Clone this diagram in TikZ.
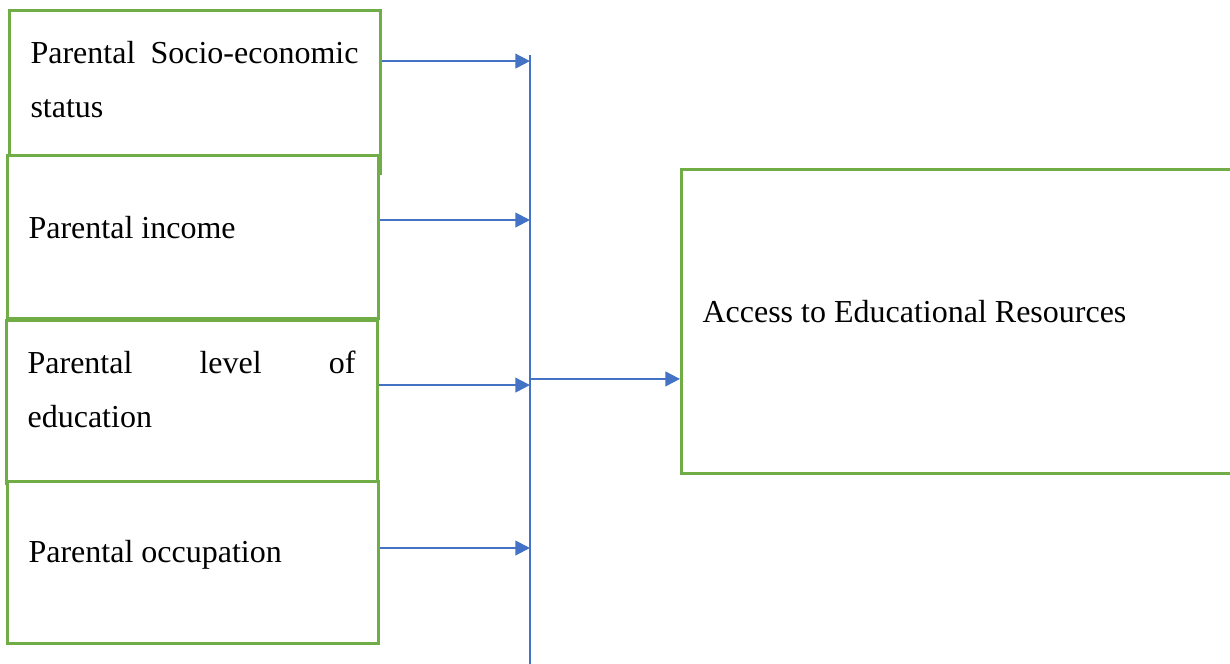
\documentclass[tikz,border=0pt]{standalone}
\usepackage{fontspec}
\setmainfont{Liberation Serif}
\usepackage{tikz}
\usetikzlibrary{arrows.meta,positioning,calc}
\definecolor{boxgreen}{HTML}{70AD47}
\definecolor{linkblue}{HTML}{4472C4}
\tolerance=10000
\hyphenpenalty=10000
\exhyphenpenalty=10000

\begin{document}
\begin{tikzpicture}[
every node/.style={font=\fontsize{12pt}{20.25pt}\selectfont},
box/.style={draw=boxgreen,line width=1pt,fill=white,anchor=north west,
minimum width=139.1pt,minimum height=61.1pt,inner sep=0pt},
txt/.style={anchor=base west,text width=123pt,align=justify,inner sep=0pt},
arr/.style={-{Triangle[length=5.5pt,width=5.5pt]},line width=0.75pt,draw=linkblue},
bus/.style={line width=0.75pt,draw=linkblue}
]
\useasboundingbox (0,0) rectangle (461.25pt,-248.625pt);

% factor boxes
\node[box] (ses) at (3pt,-3.4pt) {};
\node[box] (inc) at (2.25pt,-57.75pt) {};
\node[box] (edu) at (1.9pt,-119.6pt) {};
\node[box,minimum height=60.75pt] (occ) at (2.25pt,-180pt) {};

\node[txt] (sestxt) at ($(ses.north west)+(8.25pt,-20.25pt)$) {Parental Socio-economic status};
\node[txt] (inctxt) at ($(inc.north west)+(8.25pt,-31.5pt)$) {Parental income};
\node[txt] (edutxt) at ($(edu.north west)+(8.25pt,-20.6pt)$) {Parental level of education};
\node[txt] (occtxt) at ($(occ.north west)+(8.25pt,-31pt)$) {Parental occupation};

% outcome box
\node[box,minimum width=215pt,minimum height=114pt] (acc) at (255pt,-63pt) {};
\node[anchor=base west,inner sep=0pt] (acctxt) at ($(acc.north west)+(8.25pt,-58.1pt)$)
{Access to Educational Resources};

% bus line
\coordinate (bustop) at (198.75pt,-20.6pt);
\coordinate (busbot) at (198.75pt,-255pt);
\coordinate (b1) at (198.75pt,-22.9pt);
\coordinate (b2) at (198.75pt,-82.5pt);
\coordinate (b3) at (198.75pt,-144.4pt);
\coordinate (b4) at (198.75pt,-205.5pt);
\coordinate (bout) at (198.75pt,-142.1pt);
\draw[bus] (bustop) -- (busbot);

\draw[arr] (ses.east |- b1) -- (b1);
\draw[arr] (inc.east |- b2) -- (b2);
\draw[arr] (edu.east |- b3) -- (b3);
\draw[arr] (occ.east |- b4) -- (b4);
\draw[arr] (bout) -- (acc.west |- bout);
\end{tikzpicture}
\end{document}
